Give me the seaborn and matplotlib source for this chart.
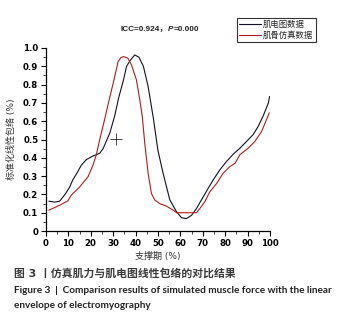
import matplotlib.pyplot as plt
import seaborn as sns
import numpy as np
import pandas as pd
from matplotlib.ticker import MultipleLocator, FuncFormatter
from matplotlib.transforms import offset_copy

# 肌电图数据 (EMG envelope)
emg_x = [1.3, 3.9, 6.1, 8.5, 10.6, 12, 14, 15.8, 18, 21, 24, 25.5, 28.5, 30.7, 32.5,
         34.5, 36, 37.5, 39.6, 41.5, 43.5, 45.6, 47.9, 50, 52.3, 55.3, 58.3, 60.5,
         62.7, 65, 67.2, 70.2, 72.5, 74.7, 77.6, 80.6, 83.6, 86.6, 89.6, 92.5, 94.8,
         97, 99.3, 99.8]
emg_y = [0.163, 0.158, 0.163, 0.2, 0.24, 0.28, 0.32, 0.36, 0.39, 0.41, 0.425, 0.45,
         0.535, 0.63, 0.73, 0.82, 0.9, 0.93, 0.962, 0.95, 0.9, 0.79, 0.62, 0.44,
         0.315, 0.17, 0.105, 0.073, 0.068, 0.086, 0.123, 0.187, 0.235, 0.28, 0.334,
         0.38, 0.42, 0.453, 0.49, 0.527, 0.573, 0.63, 0.70, 0.735]

# 肌骨仿真数据 (simulated muscle force)
sim_x = [1.3, 6.1, 9.8, 11.3, 15, 18.8, 21, 22.5, 24, 26.2, 27.5, 30, 32.2, 33.5,
         34.7, 36.5, 38.2, 40.4, 41.9, 43, 44.1, 45.6, 47.1, 48.6, 50.8, 53.8, 56.8,
         58.3, 63, 67.2, 68.7, 70.9, 73.2, 76.2, 79.1, 82.1, 84.4, 86.6, 90.3, 93.3,
         96.3, 98.5, 99.7]
sim_y = [0.114, 0.141, 0.165, 0.196, 0.24, 0.297, 0.36, 0.417, 0.5, 0.61, 0.68,
         0.807, 0.925, 0.948, 0.953, 0.945, 0.907, 0.825, 0.716, 0.627, 0.48, 0.316,
         0.205, 0.169, 0.15, 0.136, 0.114, 0.10, 0.10, 0.10, 0.123, 0.16, 0.215,
         0.26, 0.316, 0.352, 0.37, 0.417, 0.453, 0.49, 0.545, 0.61, 0.646]

cursor_x = [31.2]
cursor_y = [0.503]

legend_labels = ['肌电图数据', '肌骨仿真数据']

df_emg = pd.DataFrame({'x': emg_x, 'y': emg_y})
df_sim = pd.DataFrame({'x': sim_x, 'y': sim_y})

sns.set_style('ticks')
plt.rcParams['font.family'] = ['DejaVu Sans', 'Noto Sans CJK SC']

fig = plt.figure(figsize=(3.59, 3.31), dpi=100)
ax = fig.add_axes([0.128, 0.302, 0.624, 0.553])

sns.lineplot(data=df_emg, x='x', y='y', ax=ax, color='#111122', lw=0.8,
             label=legend_labels[0], sort=False)
sns.lineplot(data=df_sim, x='x', y='y', ax=ax, color='#b01c1c', lw=0.8,
             label=legend_labels[1], sort=False)
ax.plot(cursor_x, cursor_y, marker='+', ms=8, mew=0.5, color='black', ls='none')

ax.set_xlim(0, 100)
ax.set_ylim(0, 1.0)
ax.xaxis.set_major_locator(MultipleLocator(10))
ax.xaxis.set_minor_locator(MultipleLocator(5))
ax.yaxis.set_major_locator(MultipleLocator(0.1))
ax.yaxis.set_minor_locator(MultipleLocator(0.05))
ax.yaxis.set_major_formatter(FuncFormatter(lambda v, p: '0' if abs(v) < 1e-9 else f'{v:.1f}'))
ax.tick_params(which='major', length=3.5, width=0.8, labelsize=6.2, pad=2, colors='black')
ax.tick_params(which='minor', length=2, width=0.6)
for lab in ax.get_xticklabels() + ax.get_yticklabels():
    lab.set_fontweight('bold')
for s in ['top', 'right']:
    ax.spines[s].set_visible(False)
for s in ['left', 'bottom']:
    ax.spines[s].set_linewidth(0.9)
    ax.spines[s].set_color('black')

ax.set_xlabel('支撑期 (%)', fontsize=6.5, labelpad=3, color='#333333')
ax.set_ylabel('标准化线性包络 (%)', fontsize=6.5, labelpad=5, color='#333333')

leg = ax.legend(loc='upper left', bbox_to_anchor=(0.66, 0.945), bbox_transform=fig.transFigure,
                fontsize=6, frameon=True, fancybox=False, edgecolor='black',
                handlelength=2.6, handletextpad=0.3, borderpad=0.25, labelspacing=0.15,
                borderaxespad=0)
leg.get_frame().set_linewidth(0.8)

# title pieces: "ICC=0.924，" + italic "P" + "=0.000"
title_font = dict(fontsize=5.9, color='#222222', fontweight='bold', va='center', ha='left',
                  family=['Liberation Sans', 'Noto Sans CJK SC'])
t1 = fig.text(0.337, 0.912, 'ICC=0.924，', **title_font)
fig.canvas.draw()
w1 = t1.get_window_extent().width
t2 = fig.text(0.337, 0.912, 'P', fontstyle='italic',
              transform=offset_copy(fig.transFigure, fig=fig, x=w1 * 72 / fig.dpi, units='points'),
              **title_font)
fig.canvas.draw()
w2 = t2.get_window_extent().width
fig.text(0.337, 0.912, '=0.000',
         transform=offset_copy(fig.transFigure, fig=fig, x=(w1 + w2) * 72 / fig.dpi, units='points'),
         **title_font)

fig.text(0.04, 0.175, '图 3 丨仿真肌力与肌电图线性包络的对比结果', fontsize=7.8,
         fontweight='bold', color='#3a3a3a', va='center')
fig.text(0.04, 0.123, 'Figure 3  |  Comparison results of simulated muscle force with the linear',
         fontsize=7.2, fontweight='bold', color='#222222', va='center', family=['Lato', 'DejaVu Sans'])
fig.text(0.04, 0.077, 'envelope of electromyography', fontsize=7.2, fontweight='bold',
         color='#222222', va='center', family=['Lato', 'DejaVu Sans'])

fig.savefig('out.png', dpi=100)
